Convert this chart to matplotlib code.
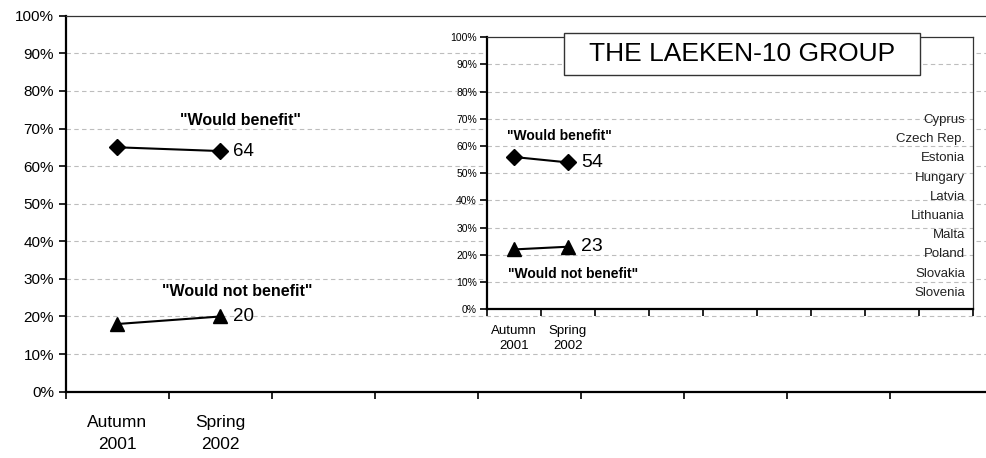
import numpy as np
import matplotlib.pyplot as plt
from matplotlib.patches import Rectangle

plt.rcParams['font.family'] = ['Liberation Sans', 'DejaVu Sans']

# survey waves and the share answering each way (%)
periods = ["Autumn\n2001", "Spring\n2002"]
n_slots = 9
eu_benefit = [65, 64]
eu_not_benefit = [18, 20]
laeken_benefit = [56, 54]
laeken_not_benefit = [22, 23]
countries = ["Cyprus", "Czech Rep.", "Estonia", "Hungary", "Latvia",
             "Lithuania", "Malta", "Poland", "Slovakia", "Slovenia"]

grid_kw = dict(color='#bdbdbd', linestyle=(0, (4, 3)), linewidth=0.8)


def setup_axes(ax, ylabel_size, xlabel_size, xlabel_pad, line_gap):
    ax.set_xlim(-0.5, n_slots - 0.5)
    ax.set_ylim(0, 100)
    ax.set_yticks(np.arange(0, 101, 10))
    ax.set_yticklabels(['%d%%' % v for v in range(0, 101, 10)])
    ax.set_xticks(np.arange(n_slots + 1) - 0.5)
    ax.set_xticklabels([])
    ax.set_xticks(np.arange(len(periods)), minor=True)
    ax.set_xticklabels(periods, minor=True)
    for lbl in ax.get_xticklabels(minor=True):
        lbl.set_linespacing(line_gap)
    ax.tick_params(axis='x', which='minor', length=0, pad=xlabel_pad, labelsize=xlabel_size)
    ax.tick_params(axis='both', which='major', direction='out', length=5,
                   width=1.2, labelsize=ylabel_size)
    for y in range(10, 100, 10):
        ax.axhline(y, zorder=0, **grid_kw)
    for s in ['left', 'bottom']:
        ax.spines[s].set_linewidth(1.6)
        ax.spines[s].set_color('black')
    for s in ['top', 'right']:
        ax.spines[s].set_linewidth(0.9)
        ax.spines[s].set_color('#333333')


def draw_series(ax, benefit, not_benefit, label_size):
    x = np.arange(len(periods))
    ax.plot(x, benefit, color='black', lw=1.5, marker='D', ms=8, zorder=3, clip_on=False)
    ax.plot(x, not_benefit, color='black', lw=1.5, marker='^', ms=10.5, zorder=3, clip_on=False)
    ax.annotate('%d' % benefit[-1], (x[-1], benefit[-1]), xytext=(13, 0),
                textcoords='offset pixels', va='center', ha='left', fontsize=label_size)
    ax.annotate('%d' % not_benefit[-1], (x[-1], not_benefit[-1]), xytext=(13, 0),
                textcoords='offset pixels', va='center', ha='left', fontsize=label_size)


fig = plt.figure(figsize=(9.87, 4.58), dpi=100)

# EU-wide panel
ax = fig.add_axes([0.0666, 0.1448, 0.94, 0.8209])
setup_axes(ax, 11, 12.5, 17, 1.55)
draw_series(ax, eu_benefit, eu_not_benefit, 13.5)
ax.text(1.19, 72, '"Would benefit"', ha='center', va='center', fontsize=11.5, fontweight='bold')
ax.text(1.16, 26.6, '"Would not benefit"', ha='center', va='center', fontsize=11.5, fontweight='bold')

# candidate countries panel
ins = fig.add_axes([0.4931, 0.3247, 0.493, 0.5939])
ins.set_facecolor('white')
setup_axes(ins, 7.5, 9.5, 11, 1.4)
ins.tick_params(axis='y', pad=2)
draw_series(ins, laeken_benefit, laeken_not_benefit, 14)
ins.text(0.84, 63.8, '"Would benefit"', ha='center', va='center', fontsize=10, fontweight='bold')
ins.text(1.09, 13, '"Would not benefit"', ha='center', va='center', fontsize=10, fontweight='bold')
for i, c in enumerate(countries):
    ins.text(0.983, 0.696 - i * 0.0706, c, transform=ins.transAxes, ha='right', va='center',
             fontsize=9.5, color='#222222')

fig.patches.append(Rectangle((0.5717, 0.8362), 0.3604, 0.0924, transform=fig.transFigure,
                             facecolor='white', edgecolor='#333333', lw=1.0, zorder=5))
fig.text(0.7518, 0.882, 'THE LAEKEN-10 GROUP', ha='center', va='center', fontsize=19, zorder=6)

fig.savefig('out.png', dpi=100)
